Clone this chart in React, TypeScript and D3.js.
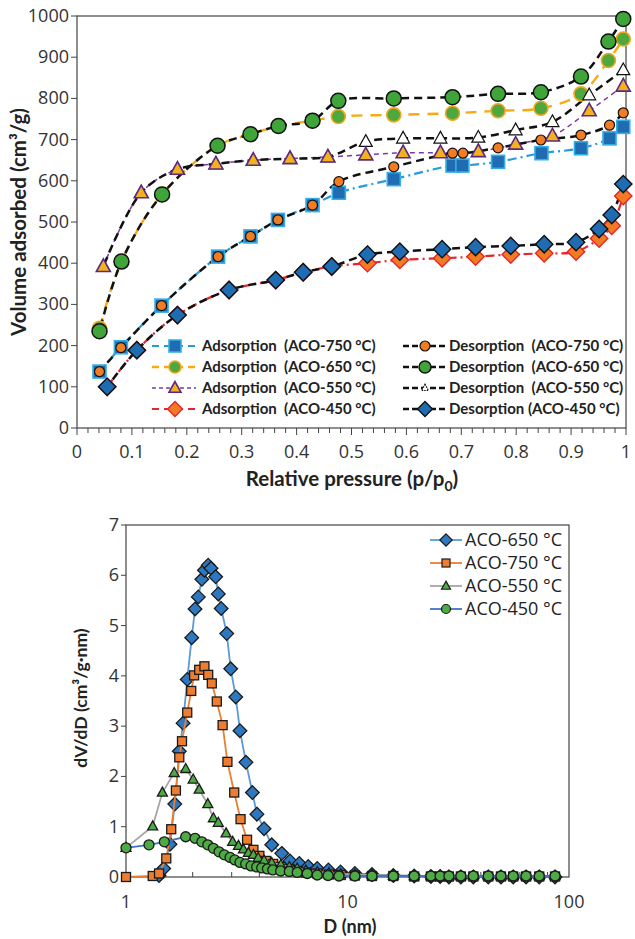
import React, { useEffect, useRef } from "react";
import * as d3 from "d3";

// N2 isotherms: relative pressure p/p0 and volume adsorbed (cm3/g)
const ads750P = [0.041, 0.08, 0.154, 0.257, 0.316, 0.366, 0.429, 0.477, 0.577, 0.684, 0.702, 0.767, 0.846, 0.918, 0.97, 0.995];
const ads750V = [137, 196, 297, 416, 465, 505, 541, 571, 604, 637, 637, 646, 667, 679, 703, 731];
const des750P = [0.995, 0.97, 0.918, 0.845, 0.767, 0.703, 0.684, 0.577, 0.477, 0.429, 0.366, 0.316, 0.257, 0.154, 0.08, 0.041];
const des750V = [765, 735, 711, 699, 680, 667, 667, 634, 598, 541, 505, 465, 416, 297, 195, 137];

const ads650P = [0.041, 0.081, 0.155, 0.256, 0.316, 0.367, 0.429, 0.476, 0.577, 0.684, 0.767, 0.845, 0.918, 0.968, 0.995];
const ads650V = [242, 404, 567, 685, 713, 733, 746, 756, 760, 764, 770, 776, 811, 892, 944];
const des650P = [0.995, 0.968, 0.918, 0.845, 0.767, 0.684, 0.577, 0.476, 0.429, 0.367, 0.316, 0.256, 0.155, 0.081, 0.041];
const des650V = [993, 938, 853, 815, 811, 803, 800, 794, 746, 733, 713, 685, 567, 404, 235];

const ads550P = [0.048, 0.117, 0.183, 0.253, 0.321, 0.388, 0.457, 0.526, 0.594, 0.662, 0.731, 0.799, 0.866, 0.933, 0.995];
const ads550V = [392, 571, 628, 641, 650, 654, 658, 663, 668, 668, 671, 689, 709, 770, 830];
const des550P = [0.995, 0.933, 0.866, 0.799, 0.731, 0.662, 0.594, 0.526, 0.457, 0.388, 0.321, 0.253, 0.183, 0.117, 0.048];
const des550V = [869, 808, 743, 723, 705, 703, 703, 695, 658, 654, 650, 641, 628, 571, 392];

const ads450P = [0.055, 0.109, 0.183, 0.277, 0.362, 0.412, 0.464, 0.529, 0.588, 0.665, 0.726, 0.79, 0.851, 0.909, 0.951, 0.974, 0.995];
const ads450V = [100, 189, 274, 335, 359, 378, 392, 400, 408, 412, 416, 421, 424, 428, 460, 491, 563];
const des450P = [0.995, 0.974, 0.951, 0.909, 0.851, 0.79, 0.726, 0.665, 0.588, 0.529, 0.464, 0.412, 0.362, 0.277, 0.183, 0.109, 0.055];
const des450V = [592, 517, 483, 451, 446, 442, 439, 434, 428, 421, 392, 378, 359, 335, 274, 189, 100];

const isoXTicks = [0, 0.1, 0.2, 0.3, 0.4, 0.5, 0.6, 0.7, 0.8, 0.9, 1];
const isoYTicks = [0, 100, 200, 300, 400, 500, 600, 700, 800, 900, 1000];

// pore size distribution: D (nm) and dV/dD
const psd650D = [1.41, 1.48, 1.58, 1.66, 1.74, 1.81, 1.89, 1.98, 2.05, 2.12, 2.2, 2.26, 2.35, 2.42, 2.54, 2.61, 2.69, 2.85, 2.97, 3.13, 3.27, 3.48, 3.72, 3.9, 4.2, 4.55, 5.05, 5.5, 6.06, 6.65, 7.3, 8.2, 9.3, 10.8, 12.9, 16.1, 20, 23.8, 26.2, 28.7, 32.5, 37, 43.2, 49.3, 56, 64, 73.4, 86.5];
const psd650V = [0.03, 0.17, 0.65, 1.45, 2.5, 3.06, 3.93, 4.76, 5.33, 5.57, 5.92, 6.1, 6.2, 6.14, 5.97, 5.63, 5.34, 4.84, 4.14, 3.58, 2.91, 2.28, 1.68, 1.25, 0.96, 0.64, 0.47, 0.32, 0.27, 0.21, 0.17, 0.14, 0.1, 0.07, 0.05, 0.03, 0.02, 0.01, 0.01, 0, 0, 0, 0, 0, 0, 0, 0, 0];

const psd750D = [1, 1.32, 1.41, 1.52, 1.6, 1.68, 1.74, 1.79, 1.89, 1.97, 2.03, 2.14, 2.26, 2.35, 2.44, 2.57, 2.73, 2.87, 3.08, 3.29, 3.52, 3.76, 4, 4.29, 4.62, 5, 5.46, 5.93, 6.49, 7.31, 8.25, 9.32, 10.8, 12.9, 16.1, 20, 23.8, 26.2, 28.7, 32.5, 37, 43.2, 49.3, 56, 64, 73.4, 86.5];
const psd750V = [0, 0.02, 0.07, 0.37, 0.95, 1.72, 2.38, 2.7, 3.27, 3.7, 4.01, 4.12, 4.19, 4.02, 3.85, 3.49, 3.02, 2.29, 1.68, 1.15, 0.74, 0.54, 0.42, 0.32, 0.26, 0.2, 0.15, 0.12, 0.09, 0.07, 0.05, 0.04, 0.03, 0.02, 0.02, 0.01, 0.01, 0.01, 0.01, 0.01, 0.01, 0.01, 0.01, 0.01, 0.01, 0.01, 0.01];

const psd550D = [1, 1.32, 1.46, 1.65, 1.86, 2.01, 2.14, 2.34, 2.48, 2.61, 2.83, 3.03, 3.22, 3.39, 3.57, 3.76, 3.95, 4.2, 4.55, 5, 5.46, 5.93, 6.49, 7.31, 8.25, 9.32, 10.8, 12.9, 16.1, 20, 23.8, 26.2, 28.7, 32.5, 37, 43.2, 49.3, 56, 64, 73.4, 86.5];
const psd550V = [0.58, 1.01, 1.68, 2.07, 2.15, 1.94, 1.74, 1.45, 1.17, 1.08, 0.87, 0.7, 0.62, 0.55, 0.48, 0.44, 0.38, 0.33, 0.28, 0.24, 0.2, 0.17, 0.13, 0.1, 0.08, 0.06, 0.05, 0.04, 0.03, 0.02, 0.02, 0.02, 0.02, 0.02, 0.02, 0.02, 0.02, 0.02, 0.02, 0.02, 0.02];

const psd450D = [1, 1.27, 1.49, 1.86, 2.05, 2.2, 2.34, 2.48, 2.63, 2.78, 2.95, 3.1, 3.27, 3.47, 3.67, 3.89, 4.1, 4.35, 4.6, 4.99, 5.46, 5.93, 6.58, 7.3, 8.17, 9.15, 10.8, 12.9, 16.1, 20, 23.8, 26.2, 28.7, 32.5, 37, 43.2, 49.3, 56, 64, 73.4, 86.5];
const psd450V = [0.58, 0.64, 0.7, 0.8, 0.77, 0.7, 0.64, 0.57, 0.5, 0.44, 0.39, 0.34, 0.29, 0.26, 0.22, 0.2, 0.18, 0.16, 0.14, 0.12, 0.11, 0.09, 0.07, 0.04, 0.03, 0.02, 0.02, 0.02, 0.02, 0.02, 0.02, 0.02, 0.02, 0.02, 0.02, 0.02, 0.02, 0.02, 0.02, 0.02, 0.02];

const psdXTicks = [1, 10, 100];
const psdYTicks = [0, 1, 2, 3, 4, 5, 6, 7];

const TICK_FONT = "'Open Sans', 'DejaVu Sans', sans-serif";
const BOLD_FONT = "Lato, 'Open Sans', sans-serif";

type Sel = d3.Selection<any, unknown, null, undefined>;

// draws one Excel-like marker
const drawMarker = (g: Sel, shape: string, x: number, y: number, s: number, fill: string, stroke: string, sw: number, dash?: string) => {
  let m: Sel;
  if (shape === "circle") {
    m = g.append("circle").attr("cx", x).attr("cy", y).attr("r", s / 2);
  } else if (shape === "square") {
    m = g.append("rect").attr("x", x - s / 2).attr("y", y - s / 2).attr("width", s).attr("height", s);
  } else if (shape === "diamond") {
    const h = s * 0.62;
    m = g.append("path").attr("d", `M${x},${y - h}L${x + h},${y}L${x},${y + h}L${x - h},${y}Z`);
  } else {
    const h = s * 0.9;
    m = g.append("path").attr("d", `M${x},${y - h * 0.6}L${x + s / 2},${y + h * 0.4}L${x - s / 2},${y + h * 0.4}Z`);
  }
  m.attr("fill", fill).attr("stroke", stroke).attr("stroke-width", sw).attr("stroke-linejoin", "miter");
  if (dash) m.attr("stroke-dasharray", dash);
};

const isoSeries = [
  { label: "Adsorption  (ACO-750 °C)", p: ads750P, v: ads750V, color: "#2a9bd8", lw: 2.2, dash: "9,4,2,4", shape: "square", size: 13, fill: "#1f6cb3", mstroke: "#35aee6", msw: 1.6, z: 1 },
  { label: "Adsorption  (ACO-650 °C)", p: ads650P, v: ads650V, color: "#f7aa14", lw: 2.4, dash: "11,8", shape: "circle", size: 14, fill: "#4ea83e", mstroke: "#f2a51d", msw: 1.6, z: 3 },
  { label: "Adsorption  (ACO-550 °C)", p: ads550P, v: ads550V, color: "#7a3aa6", lw: 1.5, dash: "5,4", shape: "triangle", size: 14, fill: "#f3b11b", mstroke: "#5a2a82", msw: 1.6, z: 6 },
  { label: "Adsorption  (ACO-450 °C)", p: ads450P, v: ads450V, color: "#e8262a", lw: 2.2, dash: "9,4,2,4", shape: "diamond", size: 14, fill: "#f07b24", mstroke: "#e8262a", msw: 1.4, z: 7 },
  { label: "Desorption  (ACO-750 °C)", p: des750P, v: des750V, color: "#111", lw: 2.5, dash: "8,5", shape: "circle", size: 10, fill: "#f07d23", mstroke: "#111", msw: 1.2, z: 2 },
  { label: "Desorption  (ACO-650 °C)", p: des650P, v: des650V, color: "#111", lw: 2.5, dash: "8,5", shape: "circle", size: 15, fill: "#3fa53a", mstroke: "#111", msw: 1.5, z: 4 },
  { label: "Desorption  (ACO-550 °C)", p: des550P, v: des550V, color: "#111", lw: 2.5, dash: "8,5", shape: "triangle", size: 13, fill: "#fff", mstroke: "#111", msw: 1.2, z: 5 },
  { label: "Desorption (ACO-450 °C)", p: des450P, v: des450V, color: "#111", lw: 2.5, dash: "8,5", shape: "diamond", size: 14, fill: "#1f6cb3", mstroke: "#111", msw: 1.4, z: 8 },
];

const psdSeries = [
  { label: "ACO-650 °C", d: psd650D, v: psd650V, color: "#5b9bd5", shape: "diamond", size: 11, fill: "#2e78c0" },
  { label: "ACO-750 °C", d: psd750D, v: psd750V, color: "#ed7d31", shape: "square", size: 9, fill: "#ed7d31" },
  { label: "ACO-550 °C", d: psd550D, v: psd550V, color: "#a5a5a5", shape: "triangle", size: 10, fill: "#4daa45" },
  { label: "ACO-450 °C", d: psd450D, v: psd450V, color: "#4472c4", shape: "circle", size: 10, fill: "#4daa45" },
];

const drawIsotherm = (svg: Sel) => {
  const x = d3.scaleLinear().domain([0, 1]).range([77, 626]);
  const y = d3.scaleLinear().domain([0, 1000]).range([428, 16]);
  const g = svg.append("g");

  // frame
  g.append("rect").attr("x", x(0)).attr("y", y(1000)).attr("width", x(1) - x(0)).attr("height", y(0) - y(1000))
    .attr("fill", "none").attr("stroke", "#444").attr("stroke-width", 1.2);

  // x ticks (minor every 0.02)
  const minor = d3.range(0, 51).map((i) => i / 50);
  g.selectAll(".xmin").data(minor).enter().append("line")
    .attr("x1", (d) => x(d)).attr("x2", (d) => x(d)).attr("y1", y(0)).attr("y2", (d, i) => y(0) + (i % 5 === 0 ? 7 : 5))
    .attr("stroke", "#444").attr("stroke-width", 1);
  g.selectAll(".xl").data(isoXTicks).enter().append("text")
    .attr("x", (d) => x(d)).attr("y", y(0) + 30).attr("text-anchor", "middle")
    .attr("font-family", TICK_FONT).attr("font-size", 18).attr("fill", "#333")
    .text((d) => (d === 0 || d === 1 ? String(d) : d.toFixed(1)));

  g.selectAll(".yt").data(isoYTicks).enter().append("line")
    .attr("x1", x(0) - 6).attr("x2", x(0)).attr("y1", (d) => y(d)).attr("y2", (d) => y(d))
    .attr("stroke", "#444").attr("stroke-width", 1);
  g.selectAll(".yl").data(isoYTicks).enter().append("text")
    .attr("x", x(0) - 8).attr("y", (d) => y(d) + 6).attr("text-anchor", "end")
    .attr("font-family", TICK_FONT).attr("font-size", 18).attr("fill", "#333")
    .text((d) => String(d));

  // axis titles
  const xt = g.append("text").attr("x", 352).attr("y", 486).attr("text-anchor", "middle")
    .attr("font-family", BOLD_FONT).attr("font-weight", "bold").attr("font-size", 20.5).attr("fill", "#222");
  xt.append("tspan").text("Relative pressure (p/p");
  xt.append("tspan").attr("dy", 5).attr("font-size", 14).text("0");
  xt.append("tspan").attr("dy", -5).text(")");
  g.append("text").attr("transform", `translate(26,222) rotate(-90)`).attr("text-anchor", "middle")
    .attr("font-family", BOLD_FONT).attr("font-weight", "bold").attr("font-size", 20.5).attr("fill", "#222")
    .text("Volume adsorbed (cm³/g)");

  const path = (s: any) =>
    d3.line<number>()
      .x((_, i) => x(s.p[i]))
      .y((_, i) => y(s.v[i]))
      .curve(d3.curveCatmullRom.alpha(0.5))(s.v);

  // lines: adsorption underneath desorption
  isoSeries.forEach((s) => {
    g.append("path").attr("d", path(s)).attr("fill", "none").attr("stroke", s.color)
      .attr("stroke-width", s.lw).attr("stroke-dasharray", s.dash);
  });

  // markers in stacking order
  [...isoSeries].sort((a, b) => a.z - b.z).forEach((s) => {
    const mg = g.append("g");
    s.p.forEach((p, i) => drawMarker(mg, s.shape, x(p), y(s.v[i]), s.size, s.fill, s.mstroke, s.msw));
  });

  // legend
  const rows = [346, 367, 388, 409];
  isoSeries.forEach((s, i) => {
    const col = i < 4 ? 0 : 1;
    const cy = rows[i % 4];
    const lx0 = col === 0 ? 152 : 403;
    const lx1 = col === 0 ? 196 : 447;
    const mx = col === 0 ? 175 : 425;
    g.append("line").attr("x1", lx0).attr("x2", lx1).attr("y1", cy).attr("y2", cy)
      .attr("stroke", s.color).attr("stroke-width", s.lw).attr("stroke-dasharray", col === 0 ? (i === 2 ? "4,3" : "7,5") : "6,3");
    drawMarker(g, s.shape, mx, cy, i === 6 ? 7 : Math.min(s.size, 12), s.fill, s.mstroke, s.msw, i === 6 ? "1.5,1" : undefined);
    g.append("text").attr("x", col === 0 ? 202 : 449).attr("y", cy + 5)
      .attr("font-family", BOLD_FONT).attr("font-weight", "bold").attr("font-size", 15).attr("fill", "#222")
      .style("white-space", "pre").text(s.label);
  });
};

const drawPsd = (svg: Sel) => {
  const x = d3.scaleLog().domain([1, 100]).range([126, 569]);
  const y = d3.scaleLinear().domain([0, 7]).range([877, 525]);
  const g = svg.append("g");

  g.append("rect").attr("x", x(1)).attr("y", y(7)).attr("width", x(100) - x(1)).attr("height", y(0) - y(7))
    .attr("fill", "none").attr("stroke", "#444").attr("stroke-width", 1.2);

  // minor log ticks pointing inward
  const minor: number[] = [];
  [1, 10].forEach((dec) => d3.range(2, 10).forEach((k) => minor.push(k * dec)));
  g.selectAll(".xm").data(minor).enter().append("line")
    .attr("x1", (d) => x(d)).attr("x2", (d) => x(d)).attr("y1", y(0)).attr("y2", y(0) - 5)
    .attr("stroke", "#444").attr("stroke-width", 1);
  g.selectAll(".xl").data(psdXTicks).enter().append("text")
    .attr("x", (d) => x(d)).attr("y", y(0) + 31).attr("text-anchor", "middle")
    .attr("font-family", TICK_FONT).attr("font-size", 18).attr("fill", "#333").text((d) => String(d));

  g.selectAll(".yt").data(psdYTicks).enter().append("line")
    .attr("x1", x(1) - 5).attr("x2", x(1)).attr("y1", (d) => y(d)).attr("y2", (d) => y(d))
    .attr("stroke", "#444").attr("stroke-width", 1);
  g.selectAll(".yl").data(psdYTicks).enter().append("text")
    .attr("x", x(1) - 7).attr("y", (d) => y(d) + 6).attr("text-anchor", "end")
    .attr("font-family", TICK_FONT).attr("font-size", 18).attr("fill", "#333").text((d) => String(d));

  g.append("text").attr("x", 350).attr("y", 933).attr("text-anchor", "middle")
    .attr("font-family", BOLD_FONT).attr("font-weight", "bold").attr("font-size", 18).attr("fill", "#222").text("D (nm)");
  g.append("text").attr("transform", `translate(87,698) rotate(-90)`).attr("text-anchor", "middle")
    .attr("font-family", BOLD_FONT).attr("font-weight", "bold").attr("font-size", 17.5).attr("fill", "#222")
    .text("dV/dD (cm³/g·nm)");

  psdSeries.forEach((s) => {
    const ln = d3.line<number>().x((_, i) => x(s.d[i])).y((_, i) => y(s.v[i]));
    g.append("path").attr("d", ln(s.v)).attr("fill", "none").attr("stroke", s.color).attr("stroke-width", 1.8);
    const mg = g.append("g");
    s.d.forEach((d, i) => drawMarker(mg, s.shape, x(d), y(s.v[i]), s.size, s.fill, "#1a1a1a", 1.3));
  });

  // legend
  const rows = [540, 563, 586, 609];
  psdSeries.forEach((s, i) => {
    const cy = rows[i];
    g.append("line").attr("x1", 430).attr("x2", 462).attr("y1", cy).attr("y2", cy)
      .attr("stroke", s.color).attr("stroke-width", 1.8);
    drawMarker(g, s.shape, 446, cy, s.size - 1, s.fill, "#1a1a1a", 1.2);
    g.append("text").attr("x", 465).attr("y", cy + 6)
      .attr("font-family", TICK_FONT).attr("font-size", 18).attr("fill", "#222").text(s.label);
  });
};

const App = () => {
  const svgRef = useRef<SVGSVGElement>(null);

  useEffect(() => {
    const svg = d3.select(svgRef.current) as Sel;
    svg.selectAll("*").remove();
    drawIsotherm(svg);
    drawPsd(svg);
  }, []);

  return (
    <svg ref={svgRef} width={635} height={939}
      style={{ position: "absolute", left: 0, top: 0, background: "#fff" }} />
  );
};

export default App;
